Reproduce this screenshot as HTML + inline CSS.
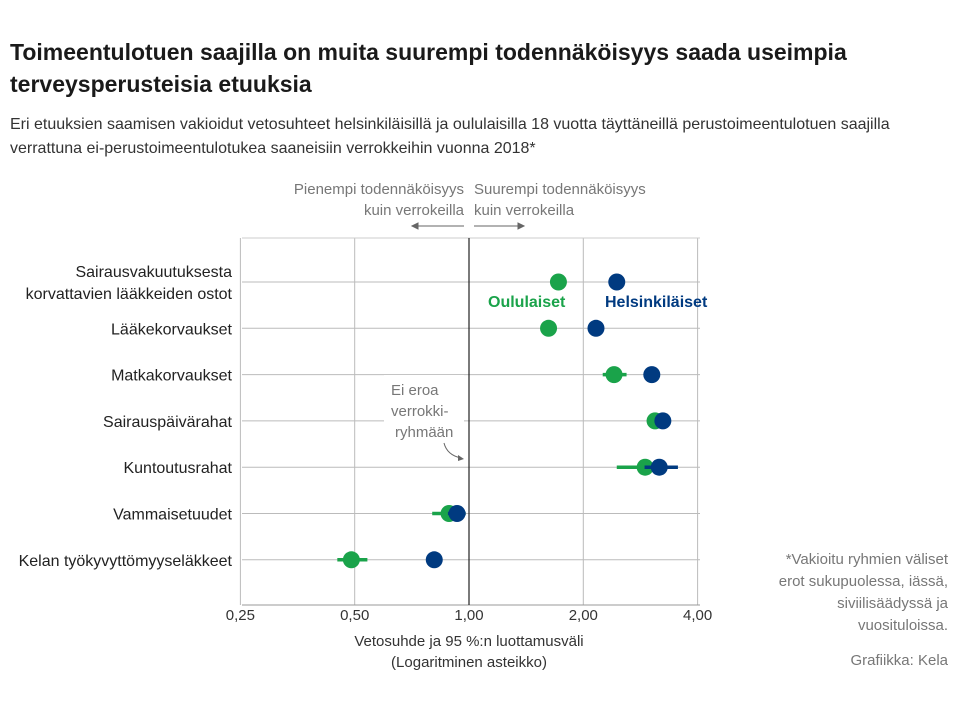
<!DOCTYPE html>
<html><head><meta charset="utf-8"><style>
body{margin:0;background:#fff;width:960px;height:703px;overflow:hidden;font-family:"Liberation Sans",sans-serif}
svg{position:absolute;left:0;top:0}
</style></head><body>
<svg id="chart" width="960" height="703" viewBox="0 0 960 703" font-family="Liberation Sans, sans-serif">
<text x="10" y="60" font-size="23" font-weight="bold" fill="#1a1a1a">Toimeentulotuen saajilla on muita suurempi todennäköisyys saada useimpia</text>
<text x="10" y="92" font-size="23" font-weight="bold" fill="#1a1a1a">terveysperusteisia etuuksia</text>
<text x="10" y="129" font-size="16" fill="#333">Eri etuuksien saamisen vakioidut vetosuhteet helsinkiläisillä ja oululaisilla 18 vuotta täyttäneillä perustoimeentulotuen saajilla</text>
<text x="10" y="153" font-size="16" fill="#333">verrattuna ei-perustoimeentulotukea saaneisiin verrokkeihin vuonna 2018*</text>
<g font-size="15" fill="#777">
<text x="464" y="194" text-anchor="end">Pienempi todennäköisyys</text>
<text x="464" y="215" text-anchor="end">kuin verrokeilla</text>
<text x="474" y="194">Suurempi todennäköisyys</text>
<text x="474" y="215">kuin verrokeilla</text>
</g>
<g stroke="#666" stroke-width="1" fill="#666">
<line x1="464" y1="226" x2="416" y2="226"/><path d="M412 226 l6 -3 v6z"/>
<line x1="474" y1="226" x2="520" y2="226"/><path d="M524 226 l-6 -3 v6z"/>
</g>
<g id="grid"></g>
<g id="rows"></g>
<g id="marks"></g>
<rect x="384" y="375" width="80" height="68" fill="#fff"/>
<g font-size="15" fill="#777">
<text x="391" y="395">Ei eroa</text>
<text x="391" y="416">verrokki-</text>
<text x="395" y="437">ryhmään</text>
</g>
<path d="M444 443 q3 12 17 15" fill="none" stroke="#666"/><path d="M464 459 l-6 -4 l0 6z" fill="#666"/>
<line x1="469" y1="238" x2="469" y2="605" stroke="#222" stroke-width="1.2"/>
<text x="488" y="307" font-size="16" font-weight="bold" fill="#1aa34a">Oululaiset</text>
<text x="605" y="307" font-size="16" font-weight="bold" fill="#003a80">Helsinkiläiset</text>
<text x="469" y="646" font-size="15" fill="#333" text-anchor="middle">Vetosuhde ja 95 %:n luottamusväli</text>
<text x="469" y="667" font-size="15" fill="#333" text-anchor="middle">(Logaritminen asteikko)</text>
<g font-size="15" fill="#777" text-anchor="end">
<text x="948" y="564">*Vakioitu ryhmien väliset</text>
<text x="948" y="586">erot sukupuolessa, iässä,</text>
<text x="948" y="608">siviilisäädyssä ja</text>
<text x="948" y="630">vuosituloissa.</text>
<text x="948" y="665">Grafiikka: Kela</text>
</g>
</svg>
<script>
const categories=["Sairausvakuutuksesta|korvattavien lääkkeiden ostot","Lääkekorvaukset","Matkakorvaukset","Sairauspäivärahat","Kuntoutusrahat","Vammaisetuudet","Kelan työkyvyttömyyseläkkeet"];
const ouluValues=[1.72,1.62,2.41,3.09,2.91,0.886,0.49];
const ouluLow=[1.70,1.60,2.25,2.95,2.45,0.80,0.45];
const ouluHigh=[1.74,1.64,2.60,3.25,3.30,0.98,0.54];
const helValues=[2.45,2.16,3.03,3.24,3.17,0.93,0.81];
const helLow=[2.43,2.14,2.98,3.18,2.90,0.88,0.79];
const helHigh=[2.47,2.18,3.08,3.30,3.55,0.98,0.83];
const tickValues=[0.25,0.5,1,2,4];
const tickLabels=["0,25","0,50","1,00","2,00","4,00"];
const NS="http://www.w3.org/2000/svg";
const x=v=>469+Math.log2(v)*114.3;
const y=i=>282+i*46.3;
function mk(t,a,p){const e=document.createElementNS(NS,t);for(const k in a)e.setAttribute(k,a[k]);p.appendChild(e);return e;}
const grid=document.getElementById('grid'),rows=document.getElementById('rows'),marks=document.getElementById('marks');
tickValues.forEach((v,i)=>{
 if(v!==1){const l=mk('line',{x1:x(v),x2:x(v),y1:238,y2:605,stroke:'#bbb'},grid);
 
 }
 const t=mk('text',{x:x(v),y:620,'font-size':15,fill:'#333','text-anchor':'middle'},grid);
 
 
 t.textContent=tickLabels[i];
});
mk('line',{x1:242,x2:700,y1:238,y2:238,stroke:'#ccc'},grid);
mk('line',{x1:242,x2:700,y1:605,y2:605,stroke:'#999'},grid);
categories.forEach((c,i)=>{
 const g=mk('line',{x1:242,x2:700,y1:y(i),y2:y(i),stroke:'#bbb'},grid);
 
 
 const parts=c.split('|');
 parts.forEach((p,j)=>{
  const t=mk('text',{x:232,y:y(i)+6+(j-(parts.length-1)/2)*22,'font-size':16,fill:'#222','text-anchor':'end'},rows);
  
  
  t.textContent=p;
 });
});
function series(vals,lo,hi,col,name){
 vals.forEach((v,i)=>{
  const l=mk('line',{x1:x(lo[i]),x2:x(hi[i]),y1:y(i),y2:y(i),stroke:col,'stroke-width':3.5},marks);
  
  
  const c=mk('circle',{cx:x(v),cy:y(i),r:8.5,fill:col},marks);
  
  
 });
}
series(ouluValues,ouluLow,ouluHigh,'#1aa34a','oulu');
series(helValues,helLow,helHigh,'#003a80','helsinki');
</script>
</body></html>
